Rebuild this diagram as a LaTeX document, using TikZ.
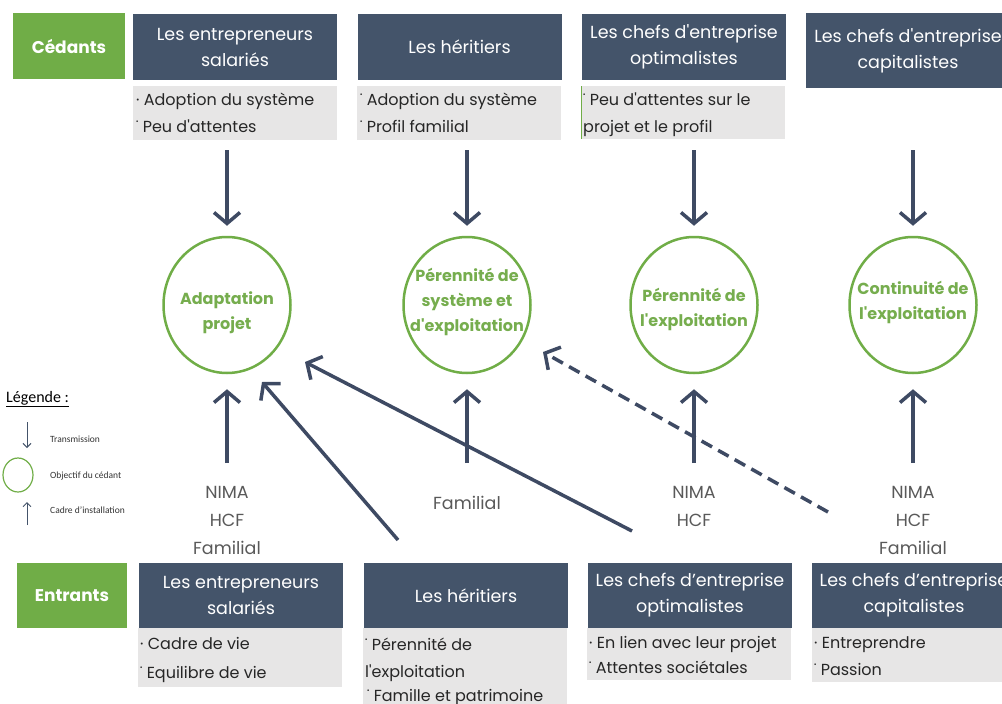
\documentclass[tikz,border=0pt]{standalone}
\usepackage{fontspec}
\setmainfont{Poppins}
\newfontfamily\legendfont{Carlito}
\usetikzlibrary{arrows.meta,shapes.geometric}

\definecolor{leafgreen}{HTML}{70AD47}
\definecolor{slate}{HTML}{44546A}
\definecolor{paleboard}{HTML}{E7E6E6}
\definecolor{inkarrow}{HTML}{3E4A63}
\definecolor{labelgray}{HTML}{595959}
\definecolor{goaltext}{HTML}{76AD4E}

\newcommand{\sq}{\textquotesingle}

\tikzset{
  groupbox/.style={fill=leafgreen, text=white, font=\fontsize{17}{20}\selectfont\bfseries, inner sep=0pt},
  headbox/.style={fill=slate, text=white, align=center, font=\fontsize{17.5}{26}\selectfont, inner sep=0pt, minimum width=204pt},
  notebox/.style={fill=paleboard, inner sep=0pt, minimum width=204pt, anchor=north west},
  notetext/.style={anchor=base west, inner sep=0pt, font=\fontsize{16}{18}\selectfont, text=black!85},
  goal/.style={ellipse, draw=leafgreen, line width=2.5pt, minimum width=127pt, minimum height=136pt, inner sep=0pt},
  goaltxt/.style={text=goaltext, font=\fontsize{16}{25}\selectfont\bfseries, align=center, inner sep=0pt},
  framelbl/.style={text=labelgray, font=\fontsize{17.5}{28}\selectfont, align=center, inner sep=0pt},
  flow/.style={draw=inkarrow, line width=3.5pt, -{Straight Barb[length=11pt,width=26pt]}},
  keyarrow/.style={draw=slate, line width=1pt, -{Straight Barb[length=4pt,width=8pt]}},
  keytext/.style={anchor=base west, inner sep=0pt, font=\legendfont\fontsize{9.5}{11}\selectfont, text=black!80},
}

\begin{document}
\begin{tikzpicture}[x=1pt,y=-1pt]
\useasboundingbox (0,0) rectangle (1002,704);
\clip (0,0) rectangle (1002,704);

% ---- transferors (top row) ----
\node[groupbox, minimum width=112pt, minimum height=66pt] (ced) at (69,46) {Cédants};
\node[headbox, minimum height=66pt] (t1) at (235,47) {Les entrepreneurs\\salariés};
\node[headbox, minimum height=66pt] (t2) at (459.5,47) {Les héritiers};
\node[headbox, minimum height=66pt] (t3) at (684,47) {Les chefs d\sq entreprise\\optimalistes};
\node[headbox, minimum height=75pt] (t4) at (908,50.5) {Les chefs d\sq entreprise\\capitalistes};

\node[notebox, minimum height=54pt] (n1) at (133,86) {};
\node[notebox, minimum height=54pt] (n2) at (357,86) {};
\node[notebox, minimum height=53pt] (n3) at (581,86) {};
\draw[leafgreen, line width=0.8pt] (n3.north west) -- (n3.south west);

\node[notetext] (n1a) at (136,105) {· Adoption du système};
\node[notetext] (n1b) at (136,132) {˙ Peu d\sq attentes};
\node[notetext] (n2a) at (360,105) {˙ Adoption du système};
\node[notetext] (n2b) at (360,132) {˙ Profil familial};
\node[notetext] (n3a) at (583,105) {˙ Peu d\sq attentes sur le};
\node[notetext] (n3b) at (583,132) {projet et le profil};

% ---- objectives ----
\node[goal] (c1) at (227,305) {};
\node[goal] (c2) at (467,305) {};
\node[goal] (c3) at (694,305) {};
\node[goal] (c4) at (913,305) {};
\node[goaltxt] (g1) at (227,313) {Adaptation\\projet};
\node[goaltxt] (g2) at (467,302) {Pérennité de\\système et\\d\sq exploitation};
\node[goaltxt] (g3) at (694,309) {Pérennité de\\l\sq exploitation};
\node[goaltxt] (g4) at (913,302) {Continuité de\\l\sq exploitation};

% transmission arrows
\draw[flow, shorten <=10pt, shorten >=10pt] (c1.north |- n1.south) -- (c1.north);
\draw[flow, shorten <=10pt, shorten >=10pt] (c2.north |- n2.south) -- (c2.north);
\draw[flow, shorten <=11pt, shorten >=10pt] (c3.north |- n3.south) -- (c3.north);
\draw[flow, shorten <=62pt, shorten >=10pt] (c4.north |- t4.south) -- (c4.north);

% ---- installation frames ----
\node[framelbl] (f1) at (227,520) {NIMA\\HCF\\Familial};
\node[framelbl] (f2) at (467,503) {Familial};
\node[framelbl] (f3) at (694,506) {NIMA\\HCF};
\node[framelbl] (f4) at (913,520) {NIMA\\HCF\\Familial};

\coordinate (u1) at (227,463);
\coordinate (u2) at (467,463);
\coordinate (u3) at (694,463);
\coordinate (u4) at (913,463);
\draw[flow, shorten >=15pt] (u1) -- (c1.south);
\draw[flow, shorten >=15pt] (u2) -- (c2.south);
\draw[flow, shorten >=15pt] (u3) -- (c3.south);
\draw[flow, shorten >=15pt] (u4) -- (c4.south);

% cross links
\coordinate (h1) at (398,540);
\coordinate (h1e) at (262,382);
\coordinate (o1) at (632,531);
\coordinate (o1e) at (305,362);
\coordinate (k1) at (828,512);
\coordinate (k1e) at (543,352);
\draw[flow] (h1) -- (h1e);
\draw[flow] (o1) -- (o1e);
\draw[flow, dash pattern=on 12pt off 7pt] (k1) -- (k1e);

% ---- newcomers (bottom row) ----
\node[groupbox, minimum width=110pt, minimum height=65pt] (ent) at (72,595.5) {Entrants};
\node[headbox, minimum height=65pt] (b1) at (241,595.5) {Les entrepreneurs\\salariés};
\node[headbox, minimum height=65pt] (b2) at (466,595.5) {Les héritiers};
\node[headbox, minimum height=65pt] (b3) at (690,595.5) {Les chefs d’entreprise\\optimalistes};
\node[headbox, minimum height=65pt] (b4) at (914,595.5) {Les chefs d’entreprise\\capitalistes};

\node[notebox, minimum height=59pt] (m1) at (138,628) {};
\node[notebox, minimum height=82pt] (m2) at (363,628) {};
\node[notebox, minimum height=52pt] (m3) at (587,628) {};
\node[notebox, minimum height=54pt] (m4) at (812,628) {};

\node[notetext] (m1a) at (140,649) {· Cadre de vie};
\node[notetext] (m1b) at (140,678) {˙ Equilibre de vie};
\node[notetext] (m2a) at (365,650) {˙ Pérennité de};
\node[notetext] (m2b) at (365,677) {l\sq exploitation};
\node[notetext] (m2c) at (367,701) {˙ Famille et patrimoine};
\node[notetext] (m3a) at (589,648) {· En lien avec leur projet};
\node[notetext] (m3b) at (589,673) {˙ Attentes sociétales};
\node[notetext] (m4a) at (814,648) {· Entreprendre};
\node[notetext] (m4b) at (814,675) {˙ Passion};

% ---- key ----
\node[anchor=base west, inner sep=0pt, font=\legendfont\fontsize{16}{18}\selectfont] (lg) at (6,402) {\underline{Légende :}};
\coordinate (la1) at (27,422);
\coordinate (la2) at (27,448);
\draw[keyarrow] (la1) -- (la2);
\node[ellipse, draw=leafgreen, line width=1.2pt, minimum width=30pt, minimum height=34pt, inner sep=0pt] (lc) at (18,475) {};
\coordinate (lb1) at (27,525);
\coordinate (lb2) at (27,502);
\draw[keyarrow] (lb1) -- (lb2);
\node[keytext] (lk1) at (50,442) {Transmission};
\node[keytext] (lk2) at (50,478) {Objectif du cédant};
\node[keytext] (lk3) at (50,513) {Cadre d’installation};
\end{tikzpicture}
\end{document}
